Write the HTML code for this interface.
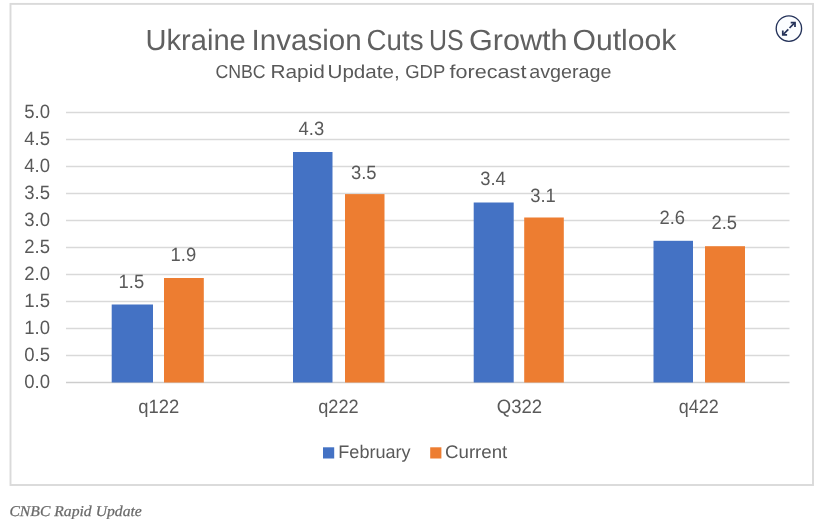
<!DOCTYPE html>
<html lang="en">
<head>
<meta charset="utf-8">
<title>Ukraine Invasion Cuts US Growth Outlook</title>
<style>
  html, body { margin: 0; padding: 0; background: #ffffff; }
  body { width: 831px; height: 519px; overflow: hidden; position: relative; }
  svg { display: block; position: absolute; left: 0; top: 0; }
  text { text-rendering: geometricPrecision; }
  .t { font-family: "Liberation Sans", sans-serif; fill: #595959; }
  .cap { font-family: "Liberation Serif", serif; font-style: italic; fill: #6a6a6a; stroke: #6a6a6a; stroke-width: 0.25px; }
</style>
</head>
<body>
<svg width="831" height="519" viewBox="0 0 831 519">
  <rect x="0" y="0" width="831" height="519" fill="#ffffff"/>

  <!-- chart frame -->
  <rect x="10.5" y="3.9" width="802.5" height="481.1" fill="#ffffff" stroke="#dadada" stroke-width="1.9"/>

  <!-- gridlines -->
  <g stroke="#d9d9d9" stroke-width="1.4">
    <line x1="66" y1="112.5" x2="789.5" y2="112.5"/>
    <line x1="66" y1="139.5" x2="789.5" y2="139.5"/>
    <line x1="66" y1="166.5" x2="789.5" y2="166.5"/>
    <line x1="66" y1="193.5" x2="789.5" y2="193.5"/>
    <line x1="66" y1="220.5" x2="789.5" y2="220.5"/>
    <line x1="66" y1="247.5" x2="789.5" y2="247.5"/>
    <line x1="66" y1="274.5" x2="789.5" y2="274.5"/>
    <line x1="66" y1="301.5" x2="789.5" y2="301.5"/>
    <line x1="66" y1="328.5" x2="789.5" y2="328.5"/>
    <line x1="66" y1="355.5" x2="789.5" y2="355.5"/>
    <line x1="66" y1="382.5" x2="789.5" y2="382.5" stroke="#cdcdcd"/>
  </g>

  <!-- titles -->
  <text class="t" font-size="29.2" y="49.5" style="fill:#606060"><tspan x="145.5" textLength="100.3" lengthAdjust="spacingAndGlyphs">Ukraine</tspan> <tspan x="251.6" textLength="110.0" lengthAdjust="spacingAndGlyphs">Invasion</tspan> <tspan x="366.6" textLength="56.9" lengthAdjust="spacingAndGlyphs">Cuts</tspan> <tspan x="429.1" textLength="34.6" lengthAdjust="spacingAndGlyphs">US</tspan> <tspan x="469.0" textLength="98.6" lengthAdjust="spacingAndGlyphs">Growth</tspan> <tspan x="572.5" textLength="103.9" lengthAdjust="spacingAndGlyphs">Outlook</tspan></text>
  <text class="t" font-size="18.8" y="78.3"><tspan x="215.4" textLength="50.3" lengthAdjust="spacingAndGlyphs">CNBC</tspan> <tspan x="270.5" textLength="54.4" lengthAdjust="spacingAndGlyphs">Rapid</tspan> <tspan x="327.5" textLength="72.2" lengthAdjust="spacingAndGlyphs">Update,</tspan> <tspan x="405.2" textLength="39.7" lengthAdjust="spacingAndGlyphs">GDP</tspan> <tspan x="449.6" textLength="76.8" lengthAdjust="spacingAndGlyphs">forecast</tspan> <tspan x="529.2" textLength="82.2" lengthAdjust="spacingAndGlyphs">avgerage</tspan></text>

  <!-- y axis labels -->
  <g class="t" font-size="19.2">
    <text x="24.2" y="118.3" textLength="25.8" lengthAdjust="spacingAndGlyphs">5.0</text>
    <text x="24.2" y="145.3" textLength="25.8" lengthAdjust="spacingAndGlyphs">4.5</text>
    <text x="24.2" y="172.3" textLength="25.8" lengthAdjust="spacingAndGlyphs">4.0</text>
    <text x="24.2" y="199.3" textLength="25.8" lengthAdjust="spacingAndGlyphs">3.5</text>
    <text x="24.2" y="226.3" textLength="25.8" lengthAdjust="spacingAndGlyphs">3.0</text>
    <text x="24.2" y="253.3" textLength="25.8" lengthAdjust="spacingAndGlyphs">2.5</text>
    <text x="24.2" y="280.3" textLength="25.8" lengthAdjust="spacingAndGlyphs">2.0</text>
    <text x="24.2" y="307.3" textLength="25.8" lengthAdjust="spacingAndGlyphs">1.5</text>
    <text x="24.2" y="334.3" textLength="25.8" lengthAdjust="spacingAndGlyphs">1.0</text>
    <text x="24.2" y="361.3" textLength="25.8" lengthAdjust="spacingAndGlyphs">0.5</text>
    <text x="24.2" y="388.3" textLength="25.8" lengthAdjust="spacingAndGlyphs">0.0</text>
  </g>

  <!-- bars -->
  <g fill="#4472c4">
    <rect x="111.7" y="304.5" width="41.3" height="78.0"/>
    <rect x="293" y="152.0" width="39.5" height="230.5"/>
    <rect x="473.7" y="202.5" width="40" height="180.0"/>
    <rect x="653.5" y="240.8" width="39.5" height="141.7"/>
  </g>
  <g fill="#ed7d31">
    <rect x="164" y="278.0" width="39.8" height="104.5"/>
    <rect x="345" y="194.1" width="39.5" height="188.4"/>
    <rect x="524.2" y="217.5" width="39.6" height="165.0"/>
    <rect x="705" y="246.2" width="40" height="136.3"/>
  </g>

  <!-- data labels -->
  <g class="t" font-size="19.2">
    <text x="118.6" y="287.8" textLength="25.6" lengthAdjust="spacingAndGlyphs">1.5</text>
    <text x="170.6" y="261.3" textLength="25.6" lengthAdjust="spacingAndGlyphs">1.9</text>
    <text x="298.6" y="135.3" textLength="25.6" lengthAdjust="spacingAndGlyphs">4.3</text>
    <text x="351" y="178.8" textLength="25.6" lengthAdjust="spacingAndGlyphs">3.5</text>
    <text x="480.2" y="185.3" textLength="25.6" lengthAdjust="spacingAndGlyphs">3.4</text>
    <text x="530.2" y="202.2" textLength="25.6" lengthAdjust="spacingAndGlyphs">3.1</text>
    <text x="659.5" y="223.8" textLength="25.6" lengthAdjust="spacingAndGlyphs">2.6</text>
    <text x="711.5" y="229" textLength="25.6" lengthAdjust="spacingAndGlyphs">2.5</text>
  </g>

  <!-- category labels -->
  <g class="t" font-size="19.2">
    <text x="138.3" y="413.4" textLength="41" lengthAdjust="spacingAndGlyphs">q122</text>
    <text x="318.2" y="413.4" textLength="40.4" lengthAdjust="spacingAndGlyphs">q222</text>
    <text x="496.8" y="413.4" textLength="45.3" lengthAdjust="spacingAndGlyphs">Q322</text>
    <text x="678.8" y="413.4" textLength="39.8" lengthAdjust="spacingAndGlyphs">q422</text>
  </g>

  <!-- legend -->
  <rect x="323" y="447.3" width="11.2" height="11.2" fill="#4472c4"/>
  <text class="t" x="338.3" y="458" font-size="18.2" textLength="72.3" lengthAdjust="spacingAndGlyphs">February</text>
  <rect x="430.2" y="447.3" width="11.2" height="11.2" fill="#ed7d31"/>
  <text class="t" x="445" y="458" font-size="18.2" textLength="62.3" lengthAdjust="spacingAndGlyphs">Current</text>

  <!-- expand icon -->
  <g fill="none" stroke="#25335a" stroke-linecap="butt" stroke-linejoin="miter">
    <circle cx="788.9" cy="28.6" r="12.7" fill="#fbfdff" stroke-width="1.35"/>
    <g stroke-width="1.75">
      <line x1="789.5" y1="28" x2="794.6" y2="22.9"/>
      <line x1="788.3" y1="29.4" x2="783.2" y2="34.5"/>
      <polyline points="790.7,22.6 795,22.6 795,26.9"/>
      <polyline points="782.8,30.5 782.8,34.8 787.1,34.8"/>
    </g>
  </g>

  <!-- caption -->
  <text class="cap" x="9.4" y="516" font-size="15" textLength="132.4" lengthAdjust="spacingAndGlyphs">CNBC Rapid Update</text>
</svg>
</body>
</html>
